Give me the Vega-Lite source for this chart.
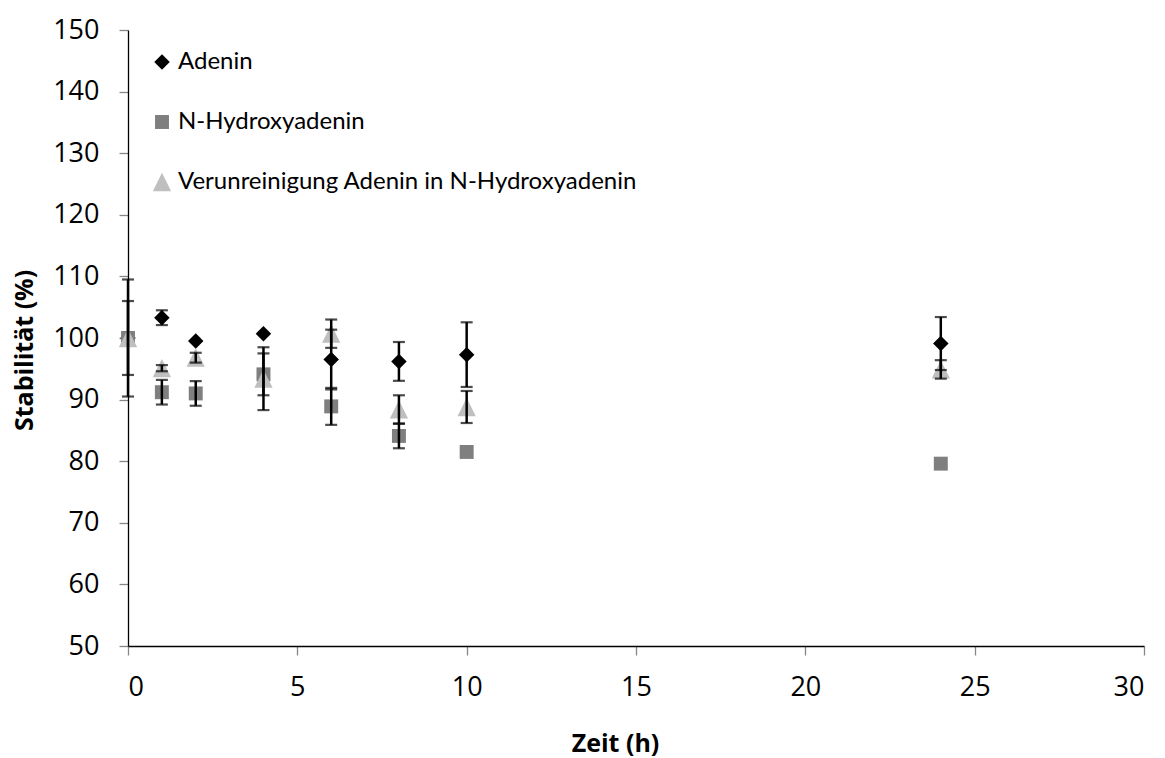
{
  "$schema": "https://vega.github.io/schema/vega-lite/v6.json",
  "width": 1016,
  "height": 616,
  "autosize": {"type": "none"},
  "padding": {"left": 128, "top": 30, "right": 21, "bottom": 112},
  "background": "white",
  "config": {"view": {"stroke": null}, "font": "Open Sans"},
  "data": {
    "values": [
      {"series": "Adenin", "t": 0, "v": 100, "e": 6.0},
      {"series": "Adenin", "t": 1, "v": 103.3, "e": 1.2},
      {"series": "Adenin", "t": 2, "v": 99.5, "e": 0},
      {"series": "Adenin", "t": 4, "v": 100.7, "e": 0},
      {"series": "Adenin", "t": 6, "v": 96.5, "e": 4.85},
      {"series": "Adenin", "t": 8, "v": 96.2, "e": 3.15},
      {"series": "Adenin", "t": 10, "v": 97.3, "e": 5.25},
      {"series": "Adenin", "t": 24, "v": 99.1, "e": 4.3},
      {"series": "N-Hydroxyadenin", "t": 0, "v": 100, "e": 9.5},
      {"series": "N-Hydroxyadenin", "t": 1, "v": 91.2, "e": 2.0},
      {"series": "N-Hydroxyadenin", "t": 2, "v": 91.0, "e": 2.0},
      {"series": "N-Hydroxyadenin", "t": 4, "v": 94.1, "e": 3.4},
      {"series": "N-Hydroxyadenin", "t": 6, "v": 88.9, "e": 3.0},
      {"series": "N-Hydroxyadenin", "t": 8, "v": 84.1, "e": 2.0},
      {"series": "N-Hydroxyadenin", "t": 10, "v": 81.5, "e": 0},
      {"series": "N-Hydroxyadenin", "t": 24, "v": 79.6, "e": 0},
      {"series": "Verunreinigung Adenin in N-Hydroxyadenin", "t": 0, "v": 100, "e": 0},
      {"series": "Verunreinigung Adenin in N-Hydroxyadenin", "t": 1, "v": 95.1, "e": 0.5},
      {"series": "Verunreinigung Adenin in N-Hydroxyadenin", "t": 2, "v": 96.8, "e": 0.8},
      {"series": "Verunreinigung Adenin in N-Hydroxyadenin", "t": 4, "v": 93.4, "e": 5.1},
      {"series": "Verunreinigung Adenin in N-Hydroxyadenin", "t": 6, "v": 100.7, "e": 2.3},
      {"series": "Verunreinigung Adenin in N-Hydroxyadenin", "t": 8, "v": 88.4, "e": 2.3},
      {"series": "Verunreinigung Adenin in N-Hydroxyadenin", "t": 10, "v": 88.8, "e": 2.6},
      {"series": "Verunreinigung Adenin in N-Hydroxyadenin", "t": 24, "v": 94.9, "e": 1.5}
    ]
  },
  "layer": [
    {
      "mark": {"type": "point", "filled": true, "opacity": 1, "size": 240, "strokeWidth": 0},
      "encoding": {
        "x": {
          "field": "t", "type": "quantitative", "title": "Zeit (h)",
          "scale": {"domain": [0, 30], "nice": false, "zero": false},
          "axis": {
            "values": [0, 5, 10, 15, 20, 25, 30], "grid": false,
            "domainColor": "#000000", "domainWidth": 1.3,
            "tickColor": "#868686", "tickSize": 9, "tickWidth": 1.3,
            "labelFontSize": 27, "labelColor": "#000000", "labelPadding": 19, "labelFont": "Open Sans",
            "titleFontSize": 25, "titleFontWeight": "bold", "titleColor": "#000000", "titleFont": "Open Sans",
            "titleX": 487, "titleY": 105, "titleAlign": "center", "titleBaseline": "alphabetic"
          }
        },
        "y": {
          "field": "v", "type": "quantitative", "title": "Stabilität (%)",
          "scale": {"domain": [50, 150], "nice": false, "zero": false},
          "axis": {
            "values": [50, 60, 70, 80, 90, 100, 110, 120, 130, 140, 150], "grid": false,
            "domainColor": "#000000", "domainWidth": 1.3,
            "tickColor": "#868686", "tickSize": 9, "tickWidth": 1.3,
            "labelFontSize": 27, "labelColor": "#000000", "labelPadding": 20, "labelFont": "Open Sans",
            "titleFontSize": 25, "titleFontWeight": "bold", "titleColor": "#000000", "titleFont": "Open Sans",
            "titleX": -96, "titleY": 320, "titleAlign": "center", "titleBaseline": "alphabetic", "titleAngle": 270
          }
        },
        "shape": {
          "field": "series", "type": "nominal",
          "scale": {
            "domain": ["Adenin", "N-Hydroxyadenin", "Verunreinigung Adenin in N-Hydroxyadenin"],
            "range": ["diamond", "M-0.9,-0.9L0.9,-0.9L0.9,0.9L-0.9,0.9Z", "M0,-1.18L1.18,1.18L-1.18,1.18Z"]
          },
          "legend": {
            "title": null, "orient": "none", "legendX": 22, "legendY": 20,
            "symbolSize": 240, "symbolStrokeWidth": 0,
            "labelFont": "Lato", "labelFontSize": 24, "labelColor": "#000000",
            "labelOffset": 4, "rowPadding": 36, "labelLimit": 800
          }
        },
        "color": {
          "field": "series", "type": "nominal",
          "scale": {
            "domain": ["Adenin", "N-Hydroxyadenin", "Verunreinigung Adenin in N-Hydroxyadenin"],
            "range": ["#000000", "#7f7f7f", "#bfbfbf"]
          },
          "legend": {
            "title": null, "orient": "none", "legendX": 22, "legendY": 20,
            "symbolSize": 240, "symbolStrokeWidth": 0,
            "labelFont": "Lato", "labelFontSize": 24, "labelColor": "#000000",
            "labelOffset": 4, "rowPadding": 36, "labelLimit": 800
          }
        }
      }
    },
    {
      "transform": [{"filter": "datum.e > 0"}],
      "mark": {"type": "errorbar", "color": "#000000", "thickness": 2.5, "ticks": {"size": 12, "thickness": 2.2, "color": "#000000"}},
      "encoding": {
        "x": {"field": "t", "type": "quantitative", "title": "Zeit (h)"},
        "y": {"field": "v", "type": "quantitative", "title": "Stabilität (%)"},
        "yError": {"field": "e"}
      }
    }
  ]
}
